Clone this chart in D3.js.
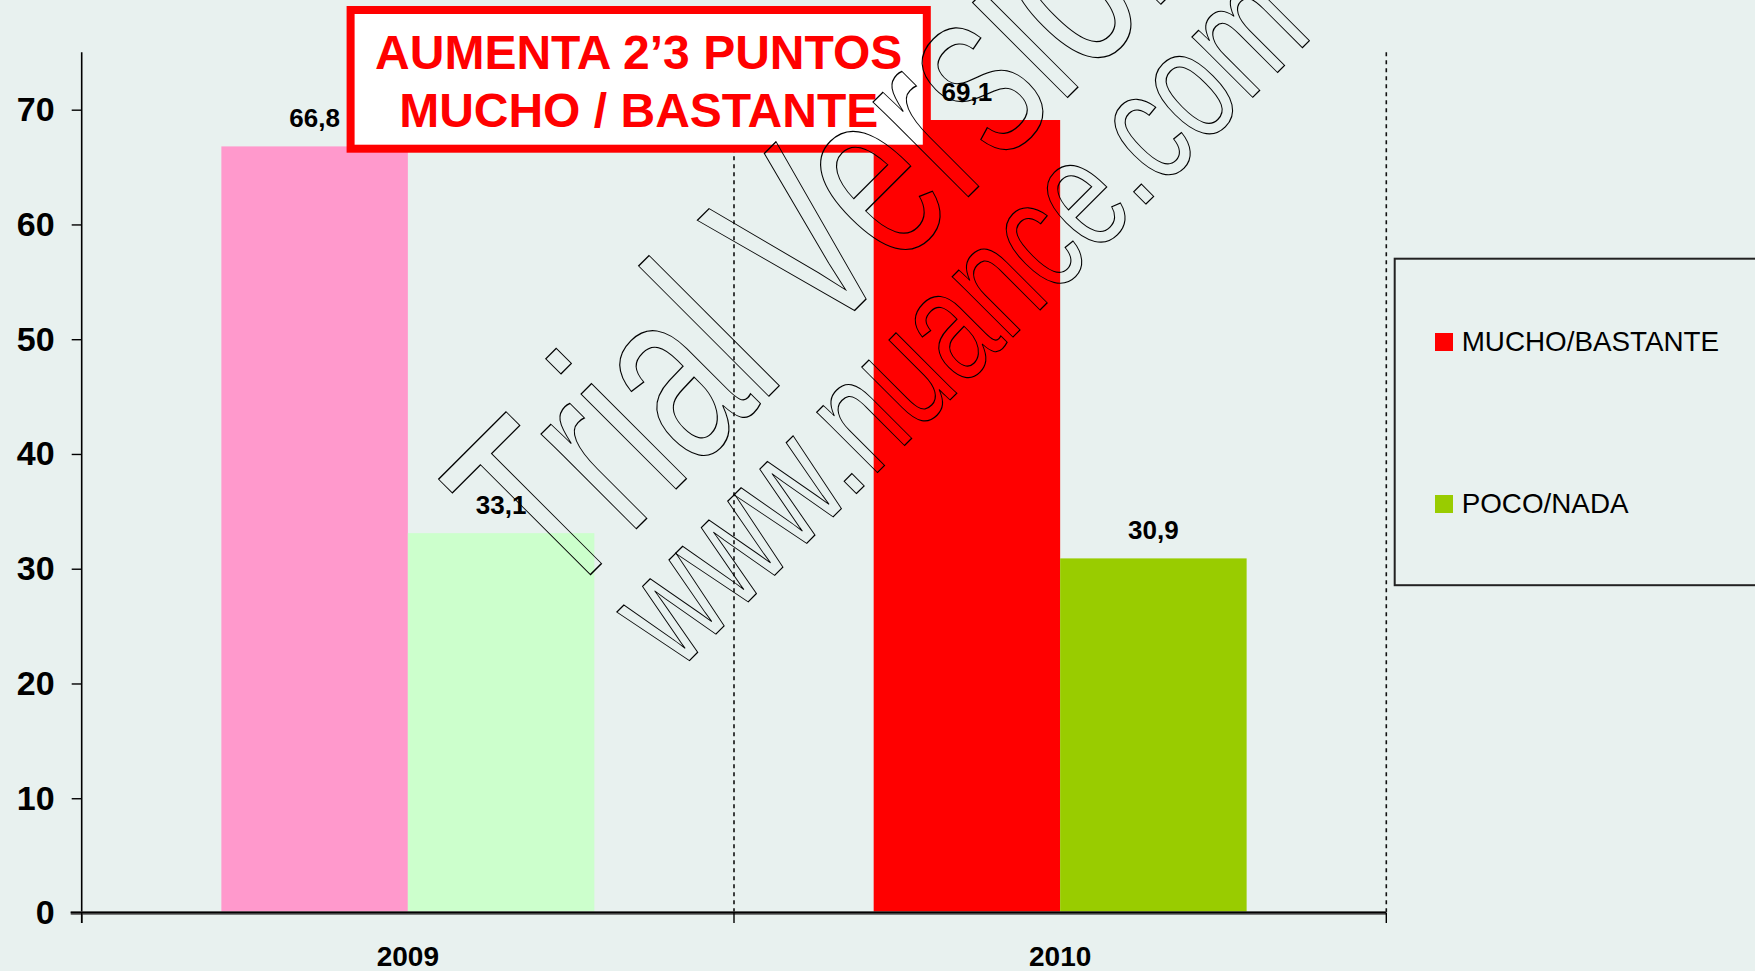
<!DOCTYPE html>
<html>
<head>
<meta charset="utf-8">
<script src="https://cdn.jsdelivr.net/npm/d3@7"></script>
<style>
  html, body { margin: 0; padding: 0; background: #e8f1ef; }
  svg { display: block; font-family: "Liberation Sans", Arial, sans-serif; }
</style>
</head>
<body>
<div id="wrapper"></div>
<script>
// data
const years = ['2009', '2010']
const series = ['MUCHO/BASTANTE', 'POCO/NADA']
const values = {
  '2009': [66.8, 33.1],
  '2010': [69.1, 30.9],
}
const valueLabels = {
  '2009': ['66,8', '33,1'],
  '2010': ['69,1', '30,9'],
}
const yTicks = [0, 10, 20, 30, 40, 50, 60, 70]
const barColors = {
  '2009': ['#ff99cc', '#ccffcc'],
  '2010': ['#ff0000', '#99cc00'],
}
const legendColors = ['#ff0000', '#99cc00']
const noteLines = ['AUMENTA 2\u20193 PUNTOS', 'MUCHO / BASTANTE']

function renderChart (wrapper) {
  const width = 1755
  const height = 971
  const left = 81.7
  const right = 1386.3
  const top = 52.3
  const bottom = 913

  const svg = d3.select(wrapper).append('svg')
    .attr('width', width)
    .attr('height', height)

  svg.append('rect')
    .attr('width', width).attr('height', height)
    .attr('fill', '#e8f1ef')

  const x0 = d3.scaleBand().domain(years).range([left, right])
  const x1 = d3.scaleBand().domain(series)
    .range([0, x0.bandwidth()])
    .paddingInner(0)
    .paddingOuter(0.749)
  const y = d3.scaleLinear().domain([0, 75]).range([bottom, top])

  // dotted separators between years
  const bounds = years.map(d => x0(d) + x0.bandwidth())
  svg.selectAll('line.sep').data(bounds).enter()
    .append('line')
    .attr('class', 'sep')
    .attr('x1', d => d).attr('x2', d => d)
    .attr('y1', top).attr('y2', bottom)
    .attr('stroke', '#111')
    .attr('stroke-width', 1.6)
    .attr('stroke-dasharray', '4,4')

  // bars
  const groups = svg.selectAll('g.year').data(years).enter()
    .append('g')
    .attr('class', 'year')
    .attr('transform', d => 'translate(' + x0(d) + ',0)')

  groups.selectAll('rect').data(yr => series.map((s, i) => ({ yr, s, i, v: values[yr][i] })))
    .enter().append('rect')
    .attr('x', d => x1(d.s))
    .attr('width', x1.bandwidth())
    .attr('y', d => y(d.v))
    .attr('height', d => y(0) - y(d.v))
    .attr('fill', d => barColors[d.yr][d.i])

  groups.selectAll('text.val').data(yr => series.map((s, i) => ({ yr, s, i, v: values[yr][i] })))
    .enter().append('text')
    .attr('class', 'val')
    .attr('x', d => x1(d.s) + x1.bandwidth() / 2)
    .attr('y', d => y(d.v) - 19.5)
    .attr('text-anchor', 'middle')
    .style('font-size', '26px')
    .style('font-weight', 'bold')
    .text(d => valueLabels[d.yr][d.i])

  // y axis
  const yAxis = d3.axisLeft(y).tickValues(yTicks).tickSize(10).tickSizeOuter(0).tickPadding(17)
  const gy = svg.append('g')
    .attr('transform', 'translate(' + left + ',0)')
    .call(yAxis)
  gy.select('.domain').attr('stroke', '#000').attr('stroke-width', 1.6)
    .attr('d', 'M0,' + top + 'V' + (bottom + 10))
  gy.selectAll('.tick line').attr('stroke', '#000').attr('stroke-width', 1.4)
  gy.selectAll('.tick text')
    .style('font-size', '34px')
    .style('font-weight', 'bold')
    .style('font-family', '"Liberation Sans", Arial, sans-serif')
    .attr('fill', '#000')

  // x axis
  const xAxis = d3.axisBottom(x0).tickSize(0).tickPadding(33)
  const gx = svg.append('g')
    .attr('transform', 'translate(0,' + bottom + ')')
    .call(xAxis)
  gx.select('.domain').remove()
  gx.selectAll('.tick text')
    .style('font-size', '28px')
    .style('font-weight', 'bold')
    .style('font-family', '"Liberation Sans", Arial, sans-serif')
    .attr('fill', '#000')
  gx.append('line')
    .attr('x1', left - 11).attr('x2', right)
    .attr('y1', 0).attr('y2', 0)
    .attr('stroke', '#555').attr('stroke-width', 3.4)
  gx.append('line')
    .attr('x1', left - 11).attr('x2', right)
    .attr('y1', -0.5).attr('y2', -0.5)
    .attr('stroke', '#000').attr('stroke-width', 1.6)
  gx.selectAll('line.bt').data([left].concat(bounds)).enter()
    .append('line')
    .attr('class', 'bt')
    .attr('x1', d => d).attr('x2', d => d)
    .attr('y1', 0).attr('y2', 10)
    .attr('stroke', '#000').attr('stroke-width', 1.4)

  // legend
  const legend = svg.append('g')
  legend.append('rect')
    .attr('x', 1394.7).attr('y', 258.7)
    .attr('width', 400).attr('height', 326.5)
    .attr('fill', 'none')
    .attr('stroke', '#222').attr('stroke-width', 2)
  const items = legend.selectAll('g.item').data(series).enter()
    .append('g')
    .attr('class', 'item')
    .attr('transform', (d, i) => 'translate(1435,' + (333 + i * 162) + ')')
  items.append('rect')
    .attr('width', 18).attr('height', 18)
    .attr('fill', (d, i) => legendColors[i])
  items.append('text')
    .attr('x', 26.7).attr('y', 18)
    .style('font-size', '27.8px')
    .attr('fill', '#000')
    .text(d => d)

  // note box
  const note = svg.append('g')
  note.append('rect')
    .attr('x', 350.6).attr('y', 10)
    .attr('width', 576.2).attr('height', 138.7)
    .attr('fill', '#fff')
    .attr('stroke', '#ff0000').attr('stroke-width', 8)
  note.selectAll('text').data(noteLines).enter()
    .append('text')
    .attr('x', 638.7)
    .attr('y', (d, i) => 69.3 + i * 58)
    .attr('text-anchor', 'middle')
    .attr('fill', '#ff0000')
    .style('font-size', '48px')
    .style('font-weight', 'bold')
    .text(d => d)

  // watermark
  const marks = [
    { t: 'Trial Version', x: 559.6, y: 605.4, size: 254, sx: 0.665 },
    { t: 'www.nuance.com', x: 677.4, y: 672.6, size: 162, sx: 0.71 },
  ]
  svg.selectAll('text.wm').data(marks).enter()
    .append('text')
    .attr('class', 'wm')
    .attr('transform', d => 'translate(' + d.x + ',' + d.y + ') rotate(-45) scale(' + d.sx + ',1)')
    .style('font-size', d => d.size + 'px')
    .attr('fill', 'none')
    .attr('stroke', '#000')
    .attr('stroke-width', d => 1 / d.sx * 0.9)
    .text(d => d.t)
}

document.addEventListener('DOMContentLoaded', () => {
  renderChart(document.querySelector('#wrapper'))
})
</script>
</body>
</html>
